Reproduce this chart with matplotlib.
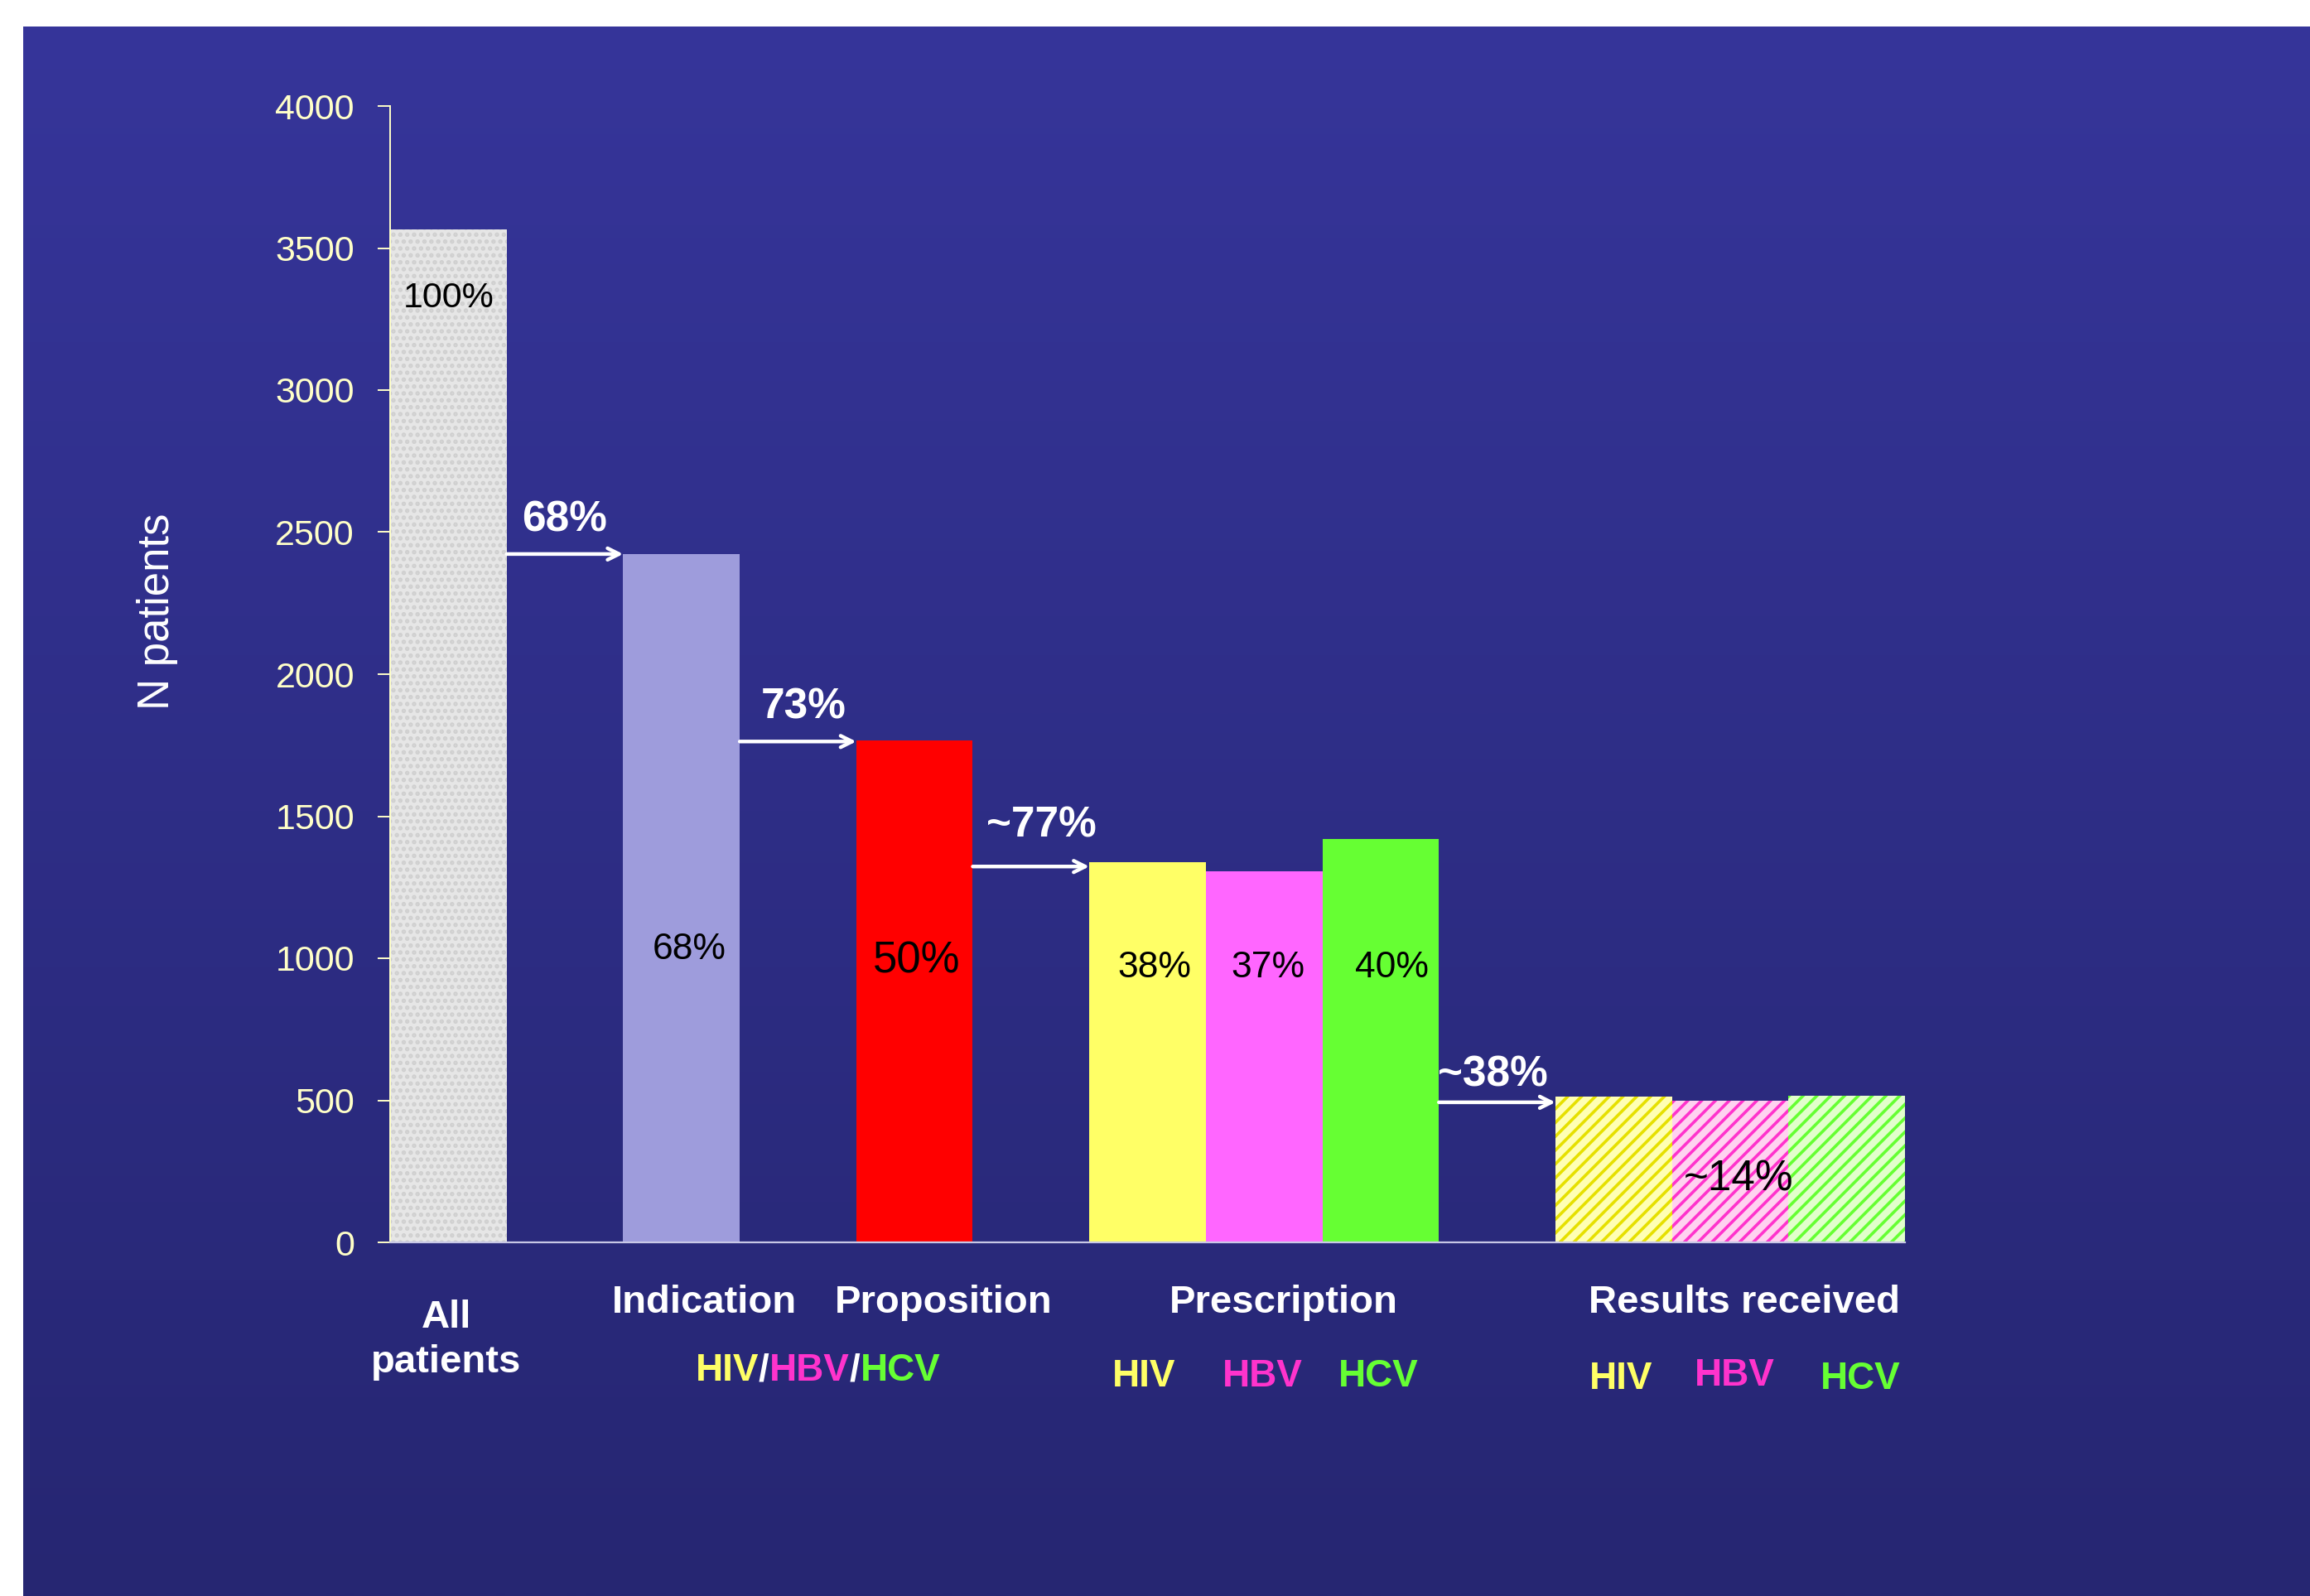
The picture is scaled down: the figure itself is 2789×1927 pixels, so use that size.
import numpy as np
import matplotlib
matplotlib.use('Agg')
import matplotlib.pyplot as plt
import matplotlib.transforms as mtransforms
from matplotlib.offsetbox import TextArea, HPacker, AnnotationBbox

# ---------------- data ----------------
stage_names = ['All\npatients', 'Indication', 'Proposition', 'Prescription', 'Results received']
bar_names = ['All patients', 'Indication', 'Proposition',
             'Prescription HIV', 'Prescription HBV', 'Prescription HCV',
             'Results HIV', 'Results HBV', 'Results HCV']
bar_values = [3565, 2423, 1768, 1338, 1306, 1420, 512, 499, 515]
bar_slots = [0, 2, 4, 6, 7, 8, 10, 11, 12]
inner_labels = ['100%', '68%', '50%', '38%', '37%', '40%', '', '~14%', '']
step_labels = ['68%', '73%', '~77%', '~38%']
step_from = [0, 1, 2, 5]
step_to = [1, 2, 3, 6]
yticks = [0, 500, 1000, 1500, 2000, 2500, 3000, 3500, 4000]
virus_names = ['HIV', 'HBV', 'HCV']

# ---------------- style ----------------
W, H = 2789, 1927
DPI = 100
plt.rcParams['hatch.linewidth'] = 2.6
SANS = ['Liberation Sans', 'DejaVu Sans']
NARROW = ['Liberation Sans Narrow', 'Liberation Sans', 'DejaVu Sans']

face = ['#e6e6e6', '#9e9cdc', '#ff0000', '#ffff66', '#ff66ff', '#66ff33',
        '#ffffb4', '#ffd2f0', '#e2ffcc']
edge = ['#cfcfcf', '#9e9cdc', '#ff0000', '#ffff66', '#ff66ff', '#66ff33',
        '#e6e000', '#ff33cc', '#66ff33']
hatch = ['..', None, None, None, None, None, '//', '//', '//']
virus_colors = ['#ffff66', '#ff33cc', '#66ff33']
inner_size = [31, 32, 38, 32, 32, 32, 0, 37, 0]
inner_y = [3325, 1032, 990, 966, 966, 966, 0, 222, 0]
inner_dx = [0.0, 0.07, 0.02, 0.06, 0.03, 0.1, 0, 0.07, 0]
arrow_drop = [0, 5, 15, 19]
label_rise = [20, 20, 26, 14]
label_dx = [0.0, 0.05, 0.09, -0.04]

fig = plt.figure(figsize=(W / DPI, H / DPI), dpi=DPI, facecolor='white')

# background gradient panel
bg = fig.add_axes([28 / W, 0, 1 - 28 / W, 1 - 32 / H])
top = np.array([0x36, 0x35, 0x9a]) / 255
bot = np.array([0x26, 0x26, 0x72]) / 255
t = np.linspace(0, 1, 256)[:, None]
grad = (top[None, :] * (1 - t) + bot[None, :] * t)[:, None, :]
bg.imshow(grad, aspect='auto', extent=[0, 1, 0, 1], interpolation='bilinear')
bg.set_axis_off()

ax_left, ax_right = 471 / W, 2300 / W
ax_bottom, ax_top = 1 - 1500 / H, 1 - 128 / H
ax = fig.add_axes([ax_left, ax_bottom, ax_right - ax_left, ax_top - ax_bottom])
ax.set_facecolor('none')

x = [s + 0.5 for s in bar_slots]
for i in range(len(bar_values)):
    ax.bar(x[i], bar_values[i], width=1.0, color=face[i], edgecolor=edge[i],
           hatch=hatch[i], linewidth=0, zorder=2)

ax.set_xlim(0, 13)
ax.set_ylim(0, 4000)
ax.set_xticks([])
ax.set_yticks(yticks)
ax.set_yticklabels([str(v) for v in yticks], family=NARROW, fontsize=31, color='#ffffc8')
ax.tick_params(axis='y', length=11, width=1.4, color='#ffffc8', pad=20)
for s in ['top', 'right']:
    ax.spines[s].set_visible(False)
ax.spines['left'].set_color('#ffffc8')
ax.spines['left'].set_linewidth(1.4)
ax.spines['bottom'].set_color('#c8c8e6')
ax.spines['bottom'].set_linewidth(1.6)
ax.spines['bottom'].set_zorder(3)

# y label
ax.text(-0.1536, 0.555, 'N patients', transform=ax.transAxes, rotation=90,
        ha='center', va='center', fontsize=38, color='white', family=SANS)

# inner labels
for i, lab in enumerate(inner_labels):
    if lab:
        ax.text(x[i] + inner_dx[i], inner_y[i], lab, ha='center', va='center',
                fontsize=inner_size[i], color='black', family=SANS, zorder=4)

# step arrows
for k, lab in enumerate(step_labels):
    a, b = step_from[k], step_to[k]
    x0 = bar_slots[a] + 1
    x1 = bar_slots[b]
    yv = bar_values[b] - arrow_drop[k]
    ax.annotate('', xy=(x1, yv), xytext=(x0, yv),
                arrowprops=dict(arrowstyle='->,head_length=1.0,head_width=0.5',
                                color='white', lw=3.2, shrinkA=0, shrinkB=0),
                zorder=5)
    ax.annotate(lab, xy=((x0 + x1) / 2 + label_dx[k], yv), xytext=(0, label_rise[k]),
                textcoords='offset points', ha='center', va='baseline', fontsize=37,
                fontweight='bold', color='white', family=SANS, zorder=5)

# category labels
tr = mtransforms.blended_transform_factory(ax.transData, ax.transAxes)
stage_x = [0.48, 2.70, 4.75, 7.67, 11.62]
stage_y = [-0.086, -0.0535, -0.0535, -0.0535, -0.0535]
for name, sx, sy in zip(stage_names, stage_x, stage_y):
    ax.text(sx, sy, name, transform=tr, ha='center', va='center', fontsize=34,
            fontweight='bold', color='white', family=SANS, linespacing=1.32,
            multialignment='center')

# HIV/HBV/HCV combined sub-label
parts = []
for j, v in enumerate(virus_names):
    parts.append(TextArea(v, textprops=dict(color=virus_colors[j], fontsize=33,
                                            fontweight='bold', family=SANS)))
    if j < len(virus_names) - 1:
        parts.append(TextArea('/', textprops=dict(color='white', fontsize=33,
                                                  fontweight='bold', family=SANS)))
pack = HPacker(children=parts, pad=0, sep=0, align='baseline')
ab = AnnotationBbox(pack, (3.67, -0.113), xycoords=tr, frameon=False,
                    box_alignment=(0.5, 0.5), annotation_clip=False)
ax.add_artist(ab)

# per-virus sub-labels
presc_x = [6.47, 7.49, 8.48]
presc_y = [-0.118, -0.118, -0.118]
res_x = [10.56, 11.54, 12.62]
res_y = [-0.120, -0.117, -0.120]
for j, v in enumerate(virus_names):
    ax.text(presc_x[j], presc_y[j], v, transform=tr, ha='center', va='center',
            fontsize=33, fontweight='bold', color=virus_colors[j], family=SANS)
    ax.text(res_x[j], res_y[j], v, transform=tr, ha='center', va='center',
            fontsize=33, fontweight='bold', color=virus_colors[j], family=SANS)

fig.savefig('out.png', dpi=DPI, facecolor='white')
